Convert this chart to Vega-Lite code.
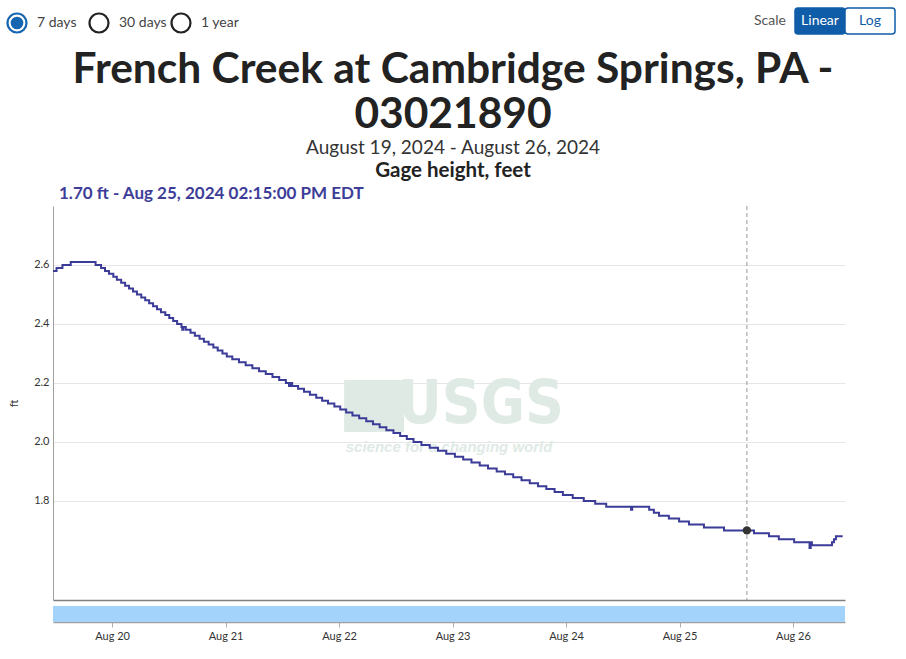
{
  "$schema": "https://vega.github.io/schema/vega-lite/v6.json",
  "background": "white",
  "padding": {"left": 3, "top": 7, "right": 8, "bottom": 5},
  "columns": 1,
  "align": "none",
  "bounds": "full",
  "spacing": 0,
  "config": {
    "view": {"stroke": null},
    "font": "Lato",
    "title": {"font": "Lato"}
  },
  "datasets": {
    "gage": [
      {"t": "2024-08-19T11:30", "v": 2.58},
      {"t": "2024-08-19T12:15", "v": 2.59},
      {"t": "2024-08-19T13:30", "v": 2.60},
      {"t": "2024-08-19T15:15", "v": 2.61},
      {"t": "2024-08-19T20:30", "v": 2.60},
      {"t": "2024-08-19T21:40", "v": 2.59},
      {"t": "2024-08-19T22:30", "v": 2.58},
      {"t": "2024-08-19T23:20", "v": 2.57},
      {"t": "2024-08-20T00:15", "v": 2.56},
      {"t": "2024-08-20T01:00", "v": 2.55},
      {"t": "2024-08-20T01:55", "v": 2.54},
      {"t": "2024-08-20T02:45", "v": 2.53},
      {"t": "2024-08-20T03:35", "v": 2.52},
      {"t": "2024-08-20T04:25", "v": 2.51},
      {"t": "2024-08-20T05:15", "v": 2.50},
      {"t": "2024-08-20T06:10", "v": 2.49},
      {"t": "2024-08-20T07:00", "v": 2.48},
      {"t": "2024-08-20T07:50", "v": 2.47},
      {"t": "2024-08-20T08:40", "v": 2.46},
      {"t": "2024-08-20T09:30", "v": 2.45},
      {"t": "2024-08-20T10:20", "v": 2.44},
      {"t": "2024-08-20T11:15", "v": 2.43},
      {"t": "2024-08-20T12:05", "v": 2.42},
      {"t": "2024-08-20T12:55", "v": 2.41},
      {"t": "2024-08-20T13:45", "v": 2.40},
      {"t": "2024-08-20T14:40", "v": 2.39},
      {"t": "2024-08-20T14:50", "v": 2.38},
      {"t": "2024-08-20T15:05", "v": 2.39},
      {"t": "2024-08-20T15:35", "v": 2.38},
      {"t": "2024-08-20T16:35", "v": 2.37},
      {"t": "2024-08-20T17:30", "v": 2.36},
      {"t": "2024-08-20T18:30", "v": 2.35},
      {"t": "2024-08-20T19:25", "v": 2.34},
      {"t": "2024-08-20T20:25", "v": 2.33},
      {"t": "2024-08-20T21:25", "v": 2.32},
      {"t": "2024-08-20T22:20", "v": 2.31},
      {"t": "2024-08-20T23:20", "v": 2.30},
      {"t": "2024-08-21T00:15", "v": 2.29},
      {"t": "2024-08-21T01:25", "v": 2.28},
      {"t": "2024-08-21T02:50", "v": 2.27},
      {"t": "2024-08-21T04:15", "v": 2.26},
      {"t": "2024-08-21T05:40", "v": 2.25},
      {"t": "2024-08-21T07:05", "v": 2.24},
      {"t": "2024-08-21T08:30", "v": 2.23},
      {"t": "2024-08-21T09:55", "v": 2.22},
      {"t": "2024-08-21T11:20", "v": 2.21},
      {"t": "2024-08-21T12:45", "v": 2.20},
      {"t": "2024-08-21T13:25", "v": 2.19},
      {"t": "2024-08-21T13:40", "v": 2.20},
      {"t": "2024-08-21T14:05", "v": 2.19},
      {"t": "2024-08-21T15:20", "v": 2.18},
      {"t": "2024-08-21T16:35", "v": 2.17},
      {"t": "2024-08-21T17:50", "v": 2.16},
      {"t": "2024-08-21T19:10", "v": 2.15},
      {"t": "2024-08-21T20:25", "v": 2.14},
      {"t": "2024-08-21T21:40", "v": 2.13},
      {"t": "2024-08-21T23:00", "v": 2.12},
      {"t": "2024-08-22T00:15", "v": 2.11},
      {"t": "2024-08-22T01:30", "v": 2.10},
      {"t": "2024-08-22T02:50", "v": 2.09},
      {"t": "2024-08-22T04:15", "v": 2.08},
      {"t": "2024-08-22T05:45", "v": 2.07},
      {"t": "2024-08-22T07:10", "v": 2.06},
      {"t": "2024-08-22T08:35", "v": 2.05},
      {"t": "2024-08-22T10:00", "v": 2.04},
      {"t": "2024-08-22T11:30", "v": 2.03},
      {"t": "2024-08-22T12:55", "v": 2.02},
      {"t": "2024-08-22T14:20", "v": 2.01},
      {"t": "2024-08-22T15:45", "v": 2.00},
      {"t": "2024-08-22T17:25", "v": 1.99},
      {"t": "2024-08-22T19:10", "v": 1.98},
      {"t": "2024-08-22T20:55", "v": 1.97},
      {"t": "2024-08-22T22:40", "v": 1.96},
      {"t": "2024-08-23T00:30", "v": 1.95},
      {"t": "2024-08-23T02:15", "v": 1.94},
      {"t": "2024-08-23T04:00", "v": 1.93},
      {"t": "2024-08-23T05:45", "v": 1.92},
      {"t": "2024-08-23T07:30", "v": 1.91},
      {"t": "2024-08-23T09:20", "v": 1.90},
      {"t": "2024-08-23T11:05", "v": 1.89},
      {"t": "2024-08-23T12:50", "v": 1.88},
      {"t": "2024-08-23T14:35", "v": 1.87},
      {"t": "2024-08-23T16:20", "v": 1.86},
      {"t": "2024-08-23T18:05", "v": 1.85},
      {"t": "2024-08-23T19:50", "v": 1.84},
      {"t": "2024-08-23T21:35", "v": 1.83},
      {"t": "2024-08-23T23:20", "v": 1.82},
      {"t": "2024-08-24T01:25", "v": 1.81},
      {"t": "2024-08-24T03:45", "v": 1.80},
      {"t": "2024-08-24T06:10", "v": 1.79},
      {"t": "2024-08-24T08:30", "v": 1.78},
      {"t": "2024-08-24T13:45", "v": 1.77},
      {"t": "2024-08-24T14:00", "v": 1.78},
      {"t": "2024-08-24T17:35", "v": 1.77},
      {"t": "2024-08-24T18:35", "v": 1.76},
      {"t": "2024-08-24T19:40", "v": 1.75},
      {"t": "2024-08-24T21:45", "v": 1.74},
      {"t": "2024-08-24T23:55", "v": 1.73},
      {"t": "2024-08-25T02:00", "v": 1.72},
      {"t": "2024-08-25T05:10", "v": 1.71},
      {"t": "2024-08-25T09:25", "v": 1.70},
      {"t": "2024-08-25T15:45", "v": 1.69},
      {"t": "2024-08-25T18:55", "v": 1.68},
      {"t": "2024-08-25T21:00", "v": 1.67},
      {"t": "2024-08-26T00:15", "v": 1.66},
      {"t": "2024-08-26T03:30", "v": 1.64},
      {"t": "2024-08-26T03:45", "v": 1.66},
      {"t": "2024-08-26T04:00", "v": 1.65},
      {"t": "2024-08-26T08:15", "v": 1.66},
      {"t": "2024-08-26T08:40", "v": 1.67},
      {"t": "2024-08-26T09:05", "v": 1.68},
      {"t": "2024-08-26T10:30", "v": 1.68}
    ],
    "hover": [{"t": "2024-08-25T14:15", "v": 1.70}]
  },
  "concat": [
    {
      "spacing": 446,
      "hconcat": [
        {
          "width": 246,
          "height": 40,
          "data": {"values": [
            {"option": "7 days", "selected": "yes", "row": "controls"},
            {"option": "30 days", "selected": "no", "row": "controls"},
            {"option": "1 year", "selected": "no", "row": "controls"}
          ]},
          "encoding": {
            "x": {"field": "option", "type": "nominal", "bandPosition": 0,
                  "scale": {"type": "band", "domain": ["7 days", "30 days", "1 year"], "paddingInner": 0, "paddingOuter": 0}, "axis": null},
            "y": {"field": "row", "type": "nominal",
                  "scale": {"type": "band", "paddingInner": 0, "paddingOuter": 0.269, "align": 0}, "axis": null}
          },
          "layer": [
            {
              "mark": {"type": "circle", "size": 361, "strokeWidth": 2.2, "xOffset": -36, "yOffset": 2, "fill": "white", "opacity": 1},
              "encoding": {
                "stroke": {"field": "selected", "type": "nominal",
                           "scale": {"domain": ["yes", "no"], "range": ["#1565b0", "#222222"]}, "legend": null}
              }
            },
            {
              "transform": [{"filter": "datum.selected == 'yes'"}],
              "mark": {"type": "circle", "size": 160, "xOffset": -36, "yOffset": 2, "color": "#1565b0", "opacity": 1}
            },
            {
              "mark": {"type": "text", "align": "left", "baseline": "middle", "xOffset": -16, "yOffset": 2, "fontSize": 14, "color": "#444444"},
              "encoding": {"text": {"field": "option"}}
            }
          ]
        },
        {
          "width": 150,
          "height": 40,
          "data": {"values": [
            {"item": "Scale", "state": "label", "row": "controls"},
            {"item": "Linear", "state": "on", "row": "controls"},
            {"item": "Log", "state": "off", "row": "controls"}
          ]},
          "encoding": {
            "x": {"field": "item", "type": "nominal",
                  "scale": {"type": "band", "domain": ["Scale", "Linear", "Log"], "paddingInner": 0, "paddingOuter": 0}, "axis": null},
            "y": {"field": "row", "type": "nominal",
                  "scale": {"type": "band", "paddingInner": 0, "paddingOuter": 0.269, "align": 0}, "axis": null}
          },
          "layer": [
            {
              "transform": [{"filter": "datum.state != 'label'"}],
              "mark": {"type": "rect", "stroke": "#0f5ca8", "strokeWidth": 1.5, "cornerRadius": 3},
              "encoding": {
                "fill": {"field": "state", "type": "nominal",
                         "scale": {"domain": ["on", "off"], "range": ["#0f5ca8", "#ffffff"]}, "legend": null}
              }
            },
            {
              "mark": {"type": "text", "fontSize": 14, "baseline": "middle"},
              "encoding": {
                "text": {"field": "item"},
                "color": {"field": "state", "type": "nominal",
                          "scale": {"domain": ["label", "on", "off"], "range": ["#555555", "#ffffff", "#0f5ca8"]}, "legend": null}
              }
            }
          ]
        }
      ]
    },
    {
      "width": 800,
      "height": 26,
      "title": {
        "text": ["French Creek at Cambridge Springs, PA -", "03021890"],
        "subtitle": "August 19, 2024 - August 26, 2024",
        "fontSize": 42.5,
        "lineHeight": 45,
        "fontWeight": "bold",
        "color": "#222222",
        "subtitleFont": "Lato",
        "subtitleFontSize": 19,
        "subtitleColor": "#333333",
        "subtitlePadding": 3,
        "anchor": "middle",
        "frame": "group",
        "offset": 0
      },
      "data": {"values": [{"label": "Gage height, feet"}]},
      "mark": {"type": "text", "fontSize": 20.5, "fontWeight": "bold", "color": "#222222", "baseline": "middle"},
      "encoding": {"text": {"field": "label"}}
    },
    {
      "width": 792,
      "height": 394,
      "title": {
        "text": "1.70 ft - Aug 25, 2024 02:15:00 PM EDT",
        "anchor": "start",
        "frame": "group",
        "dx": 6,
        "fontSize": 17,
        "fontWeight": "bold",
        "color": "#3d3d99",
        "offset": 3
      },
      "layer": [
        {
          "data": {"values": [{"logo": "USGS"}]},
          "mark": {"type": "rect", "color": "#e0eae5"},
          "encoding": {
            "x": {"datum": {"year": 2024, "month": 8, "date": 22, "hours": 1, "minutes": 4}, "type": "temporal"},
            "x2": {"datum": {"year": 2024, "month": 8, "date": 22, "hours": 13, "minutes": 45}},
            "y": {"datum": 2.21, "type": "quantitative"},
            "y2": {"datum": 2.034}
          }
        },
        {
          "data": {"values": [{"logo": "USGS"}]},
          "mark": {"type": "text", "font": "DejaVu Sans Condensed", "fontWeight": "bold", "fontSize": 60, "color": "#e0eae5", "align": "center", "baseline": "middle"},
          "encoding": {
            "text": {"field": "logo"},
            "x": {"datum": {"year": 2024, "month": 8, "date": 23, "hours": 6, "minutes": 0}, "type": "temporal"},
            "y": {"datum": 2.125, "type": "quantitative"}
          }
        },
        {
          "data": {"values": [{"tagline": "science for a changing world"}]},
          "mark": {"type": "text", "font": "Liberation Sans", "fontWeight": "bold", "fontStyle": "italic", "fontSize": 15, "color": "#e0eae5", "align": "center", "baseline": "middle"},
          "encoding": {
            "text": {"field": "tagline"},
            "x": {"datum": {"year": 2024, "month": 8, "date": 22, "hours": 23, "minutes": 16}, "type": "temporal"},
            "y": {"datum": 1.983, "type": "quantitative"}
          }
        },
        {
          "data": {"name": "gage"},
          "mark": {"type": "line", "interpolate": "step-after", "color": "#3b3b98", "strokeWidth": 2},
          "encoding": {
            "x": {"field": "t", "type": "temporal",
                  "scale": {"domain": [{"year": 2024, "month": 8, "date": 19, "hours": 11, "minutes": 30}, {"year": 2024, "month": 8, "date": 26, "hours": 11, "minutes": 0}], "nice": false},
                  "axis": {"title": null, "labels": false, "ticks": false, "grid": false, "domainColor": "#808080", "domainWidth": 1.5}},
            "y": {"field": "v", "type": "quantitative",
                  "scale": {"domain": [1.464, 2.8], "nice": false, "zero": false},
                  "axis": {"title": "ft", "titleFontWeight": "normal", "titleFontSize": 11, "titleColor": "#333333", "titlePadding": 12,
                           "values": [1.8, 2.0, 2.2, 2.4, 2.6], "format": ".1f", "labelFontSize": 11, "labelColor": "#333333",
                           "labelPadding": 4, "ticks": false, "grid": true, "gridColor": "#e6e6e6", "domainColor": "#a0a0a0",
                           "minExtent": 22, "maxExtent": 22}}
          }
        },
        {
          "data": {"name": "hover"},
          "mark": {"type": "rule", "strokeDash": [4, 3], "color": "#999999", "strokeWidth": 1},
          "encoding": {"x": {"field": "t", "type": "temporal"}}
        },
        {
          "data": {"name": "hover"},
          "mark": {"type": "circle", "size": 70, "color": "#333333", "opacity": 1},
          "encoding": {
            "x": {"field": "t", "type": "temporal"},
            "y": {"field": "v", "type": "quantitative"}
          }
        }
      ]
    },
    {
      "width": 792,
      "height": 21,
      "data": {"values": [{"start": "2024-08-19T11:30", "end": "2024-08-26T11:00", "band": "navigator"}]},
      "mark": {"type": "rect", "color": "#a3d2fa"},
      "encoding": {
        "x": {"field": "start", "type": "temporal",
              "scale": {"domain": [{"year": 2024, "month": 8, "date": 19, "hours": 11, "minutes": 30}, {"year": 2024, "month": 8, "date": 26, "hours": 11, "minutes": 0}], "nice": false},
              "axis": {"title": null, "format": "%b %d", "tickCount": {"interval": "day", "step": 1}, "labelFontSize": 11, "labelColor": "#333333",
                       "tickColor": "#b0b0b0", "domainColor": "#a0a0a0", "domainWidth": 1.5, "tickSize": 5, "labelPadding": 3, "grid": false}},
        "x2": {"field": "end"},
        "y": {"field": "band", "type": "nominal",
              "scale": {"type": "band", "paddingInner": 0, "paddingOuter": 0.156, "align": 1},
              "axis": {"labels": false, "ticks": false, "domain": false, "title": "ft", "titleColor": "transparent", "titleFontSize": 11,
                       "titlePadding": 12, "minExtent": 22, "maxExtent": 22}}
      }
    }
  ]
}
